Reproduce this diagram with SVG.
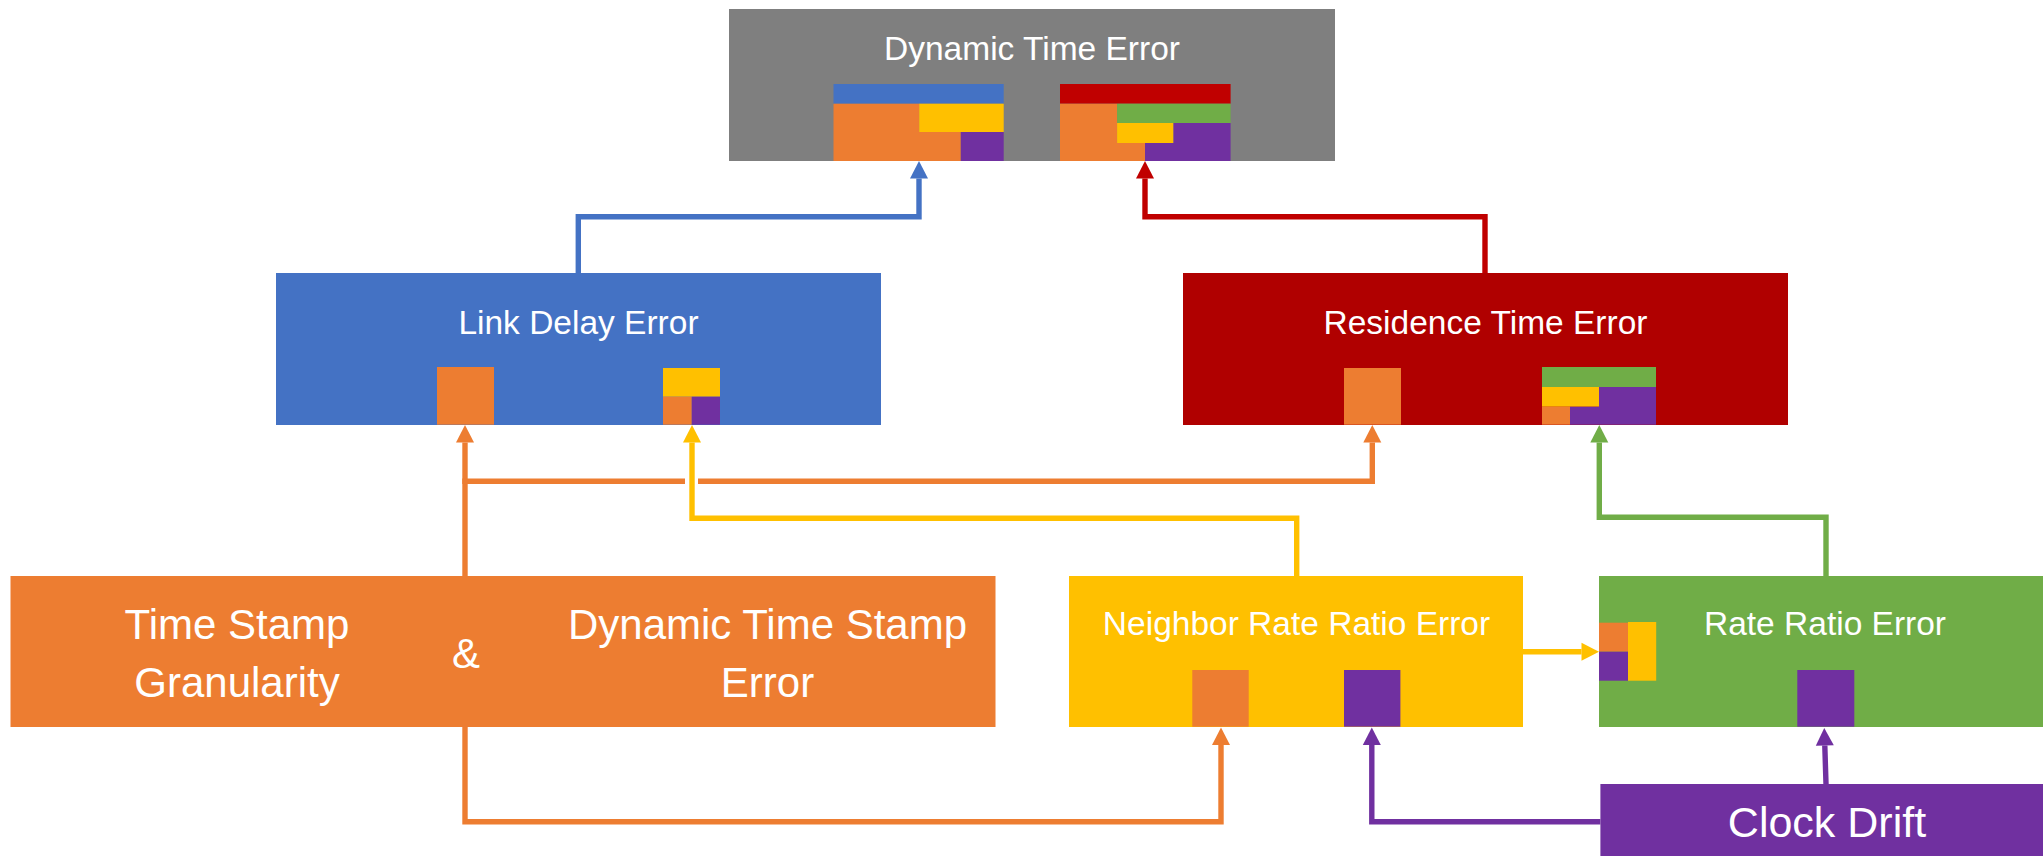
<svg xmlns="http://www.w3.org/2000/svg" width="2043" height="856" viewBox="0 0 2043 856">
<style>
.t{font-family:"Liberation Sans",Arial,sans-serif;fill:#fff;text-anchor:middle}
.m{font-size:33.5px}
.l{font-size:42px}
.c{fill:none;stroke-width:5.4;stroke-linejoin:miter;stroke-linecap:butt}
.bl{fill:#4472C4}.rd{fill:#C00000}.or{fill:#ED7D31}.ye{fill:#FFC000}.gr{fill:#70AD47}.pu{fill:#7030A0}
</style>
<defs>
<marker id="aB" markerUnits="userSpaceOnUse" markerWidth="18" markerHeight="18" refX="0" refY="9" orient="auto" overflow="visible"><path d="M0,0 L17.5,9 L0,18 z" fill="#4472C4"/></marker>
<marker id="aR" markerUnits="userSpaceOnUse" markerWidth="18" markerHeight="18" refX="0" refY="9" orient="auto" overflow="visible"><path d="M0,0 L17.5,9 L0,18 z" fill="#C00000"/></marker>
<marker id="aO" markerUnits="userSpaceOnUse" markerWidth="18" markerHeight="18" refX="0" refY="9" orient="auto" overflow="visible"><path d="M0,0 L17.5,9 L0,18 z" fill="#ED7D31"/></marker>
<marker id="aY" markerUnits="userSpaceOnUse" markerWidth="18" markerHeight="18" refX="0" refY="9" orient="auto" overflow="visible"><path d="M0,0 L17.5,9 L0,18 z" fill="#FFC000"/></marker>
<marker id="aG" markerUnits="userSpaceOnUse" markerWidth="18" markerHeight="18" refX="0" refY="9" orient="auto" overflow="visible"><path d="M0,0 L17.5,9 L0,18 z" fill="#70AD47"/></marker>
<marker id="aP" markerUnits="userSpaceOnUse" markerWidth="18" markerHeight="18" refX="0" refY="9" orient="auto" overflow="visible"><path d="M0,0 L17.5,9 L0,18 z" fill="#7030A0"/></marker>
</defs>
<rect width="2043" height="856" fill="#fff"/>

<g id="dynamic-time-error">
<rect x="729" y="9" width="606" height="152" fill="#7F7F7F"/>
<text class="t m" x="1032" y="60">Dynamic Time Error</text>
<rect class="bl" x="833.5" y="84" width="170.2" height="19.7"/>
<polygon class="or" points="833.5,103.7 919.2,103.7 919.2,132 960.8,132 960.8,161 833.5,161"/>
<rect class="ye" x="919.2" y="103.7" width="84.5" height="28.3"/>
<rect class="pu" x="960.8" y="132" width="42.9" height="29"/>
<rect class="rd" x="1060" y="84" width="170.6" height="19.7"/>
<polygon class="or" points="1060,103.7 1117.1,103.7 1117.1,143 1145,143 1145,161 1060,161"/>
<rect class="gr" x="1117.1" y="103.7" width="113.5" height="19.3"/>
<rect class="ye" x="1117.1" y="123" width="56.4" height="20"/>
<polygon class="pu" points="1173.5,123 1230.6,123 1230.6,161 1145,161 1145,143 1173.5,143"/>
</g>

<g id="link-delay-error">
<rect x="276" y="273" width="605" height="152" fill="#4472C4"/>
<text class="t m" x="578.5" y="334">Link Delay Error</text>
<rect class="or" x="437" y="367" width="57" height="57.7"/>
<rect class="ye" x="663" y="368" width="57" height="28.7"/>
<rect class="or" x="663" y="396.7" width="28.8" height="28"/>
<rect class="pu" x="691.8" y="396.7" width="28.2" height="28"/>
</g>

<g id="residence-time-error">
<rect x="1183" y="273" width="605" height="152" fill="#B00000"/>
<text class="t m" x="1485.5" y="334">Residence Time Error</text>
<rect class="or" x="1344" y="368" width="57" height="56.7"/>
<rect class="gr" x="1542" y="367" width="114" height="20"/>
<rect class="ye" x="1542" y="387" width="57" height="19.7"/>
<polygon class="pu" points="1599,387 1656,387 1656,424.7 1570,424.7 1570,406.7 1599,406.7"/>
<rect class="or" x="1542" y="406.7" width="28" height="18"/>
</g>

<g id="time-stamp">
<rect x="10.5" y="576" width="985" height="151" fill="#ED7D31"/>
<text class="t l" x="237" y="639">Time Stamp</text>
<text class="t l" x="237" y="696.7">Granularity</text>
<text class="t l" x="466" y="668">&amp;</text>
<text class="t l" x="767.5" y="639">Dynamic Time Stamp</text>
<text class="t l" x="767.5" y="696.7">Error</text>
</g>

<g id="neighbor-rate-ratio-error">
<rect x="1069" y="576" width="454" height="151" fill="#FFC000"/>
<text class="t m" x="1296.5" y="635">Neighbor Rate Ratio Error</text>
<rect class="or" x="1192.3" y="670" width="56.4" height="56.7"/>
<rect class="pu" x="1344" y="670" width="56.4" height="56.7"/>
</g>

<g id="rate-ratio-error">
<rect x="1599" y="576" width="452" height="151" fill="#70AD47"/>
<text class="t m" x="1825" y="635">Rate Ratio Error</text>
<rect class="or" x="1599" y="622.7" width="29" height="29"/>
<rect class="pu" x="1599" y="651.7" width="29" height="29"/>
<rect class="ye" x="1628" y="622" width="28.2" height="58.7"/>
<rect class="pu" x="1797.3" y="670" width="57" height="56.7"/>
</g>

<g id="clock-drift">
<rect x="1600.4" y="784" width="450" height="80" fill="#7030A0"/>
<text class="t" x="1827" y="836.7" style="font-size:43px">Clock Drift</text>
</g>

<g id="connectors">
<path class="c" stroke="#4472C4" d="M578.3,273 V216.7 H919 V178.5" marker-end="url(#aB)"/>
<path class="c" stroke="#C00000" d="M1485,273 V216.7 H1145 V178.5" marker-end="url(#aR)"/>
<path class="c" stroke="#ED7D31" d="M465,576 V442.5" marker-end="url(#aO)"/>
<path class="c" stroke="#ED7D31" d="M462.3,481.3 H685"/>
<path class="c" stroke="#ED7D31" d="M698,481.3 H1372.3 V442.5" marker-end="url(#aO)"/>
<path class="c" stroke="#ED7D31" d="M465,727 V821.7 H1221 V745" marker-end="url(#aO)"/>
<path class="c" stroke="#FFC000" d="M1296.7,576 V518.3 H692 V442.5" marker-end="url(#aY)"/>
<path class="c" stroke="#FFC000" d="M1523,651.7 H1581.5" marker-end="url(#aY)"/>
<path class="c" stroke="#70AD47" d="M1826,576 V517.3 H1599.3 V442.5" marker-end="url(#aG)"/>
<path class="c" stroke="#7030A0" d="M1826,784 L1824.8,745.5" marker-end="url(#aP)"/>
<path class="c" stroke="#7030A0" d="M1600.4,821.7 H1371.8 V745" marker-end="url(#aP)"/>
</g>
</svg>
